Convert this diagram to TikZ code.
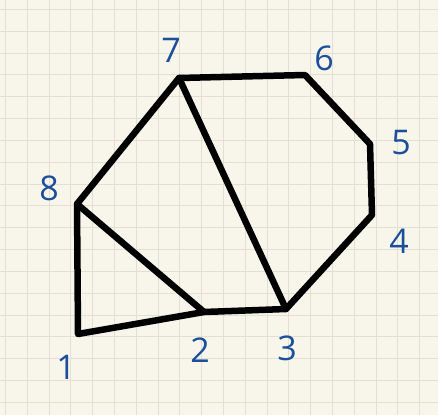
\documentclass[tikz,border=0pt]{standalone}
\usepackage{fontspec}
\setmainfont{Open Sans}
\definecolor{paper}{HTML}{F8F6EB}
\definecolor{gridc}{HTML}{E3E0D3}
\definecolor{ink}{HTML}{1B4E9B}
\begin{document}
\begin{tikzpicture}[x=1pt,y=-1pt,
  edge/.style={line width=6.5pt,black,line join=round,line cap=round},
  lbl/.style={text=ink,font=\fontsize{34}{34}\selectfont,inner sep=0pt}]
\fill[paper] (0,0) rectangle (438,415);
\useasboundingbox (0,0) rectangle (438,415);
\foreach \i in {0,...,19} {\draw[gridc,line width=0.9pt] (5.5+21.8*\i,0) -- (5.5+21.8*\i,415);}
\foreach \j in {0,...,18} {\draw[gridc,line width=0.9pt] (0,9.3+21.84*\j) -- (438,9.3+21.84*\j);}
\coordinate (v1) at (78,334);
\coordinate (v2) at (204,312);
\coordinate (v3) at (286,309);
\coordinate (v4) at (372,215);
\coordinate (v5) at (370,144);
\coordinate (v6) at (305,75);
\coordinate (v7) at (179,78);
\coordinate (v8) at (77,204);
\draw[edge] (v1) -- (v2) -- (v3) -- (v4) -- (v5) -- (v6) -- (v7) -- (v8) -- cycle;
\draw[edge] (v8) -- (v2);
\draw[edge] (v7) -- (v3);
\node[lbl] (l1) at (66,367) {1};
\node[lbl] (l2) at (200,350) {2};
\node[lbl] (l3) at (287,348) {3};
\node[lbl] (l4) at (399,241) {4};
\node[lbl] (l5) at (401,143) {5};
\node[lbl] (l6) at (324,58) {6};
\node[lbl] (l7) at (171,50) {7};
\node[lbl] (l8) at (49,188) {8};
\end{tikzpicture}
\end{document}
